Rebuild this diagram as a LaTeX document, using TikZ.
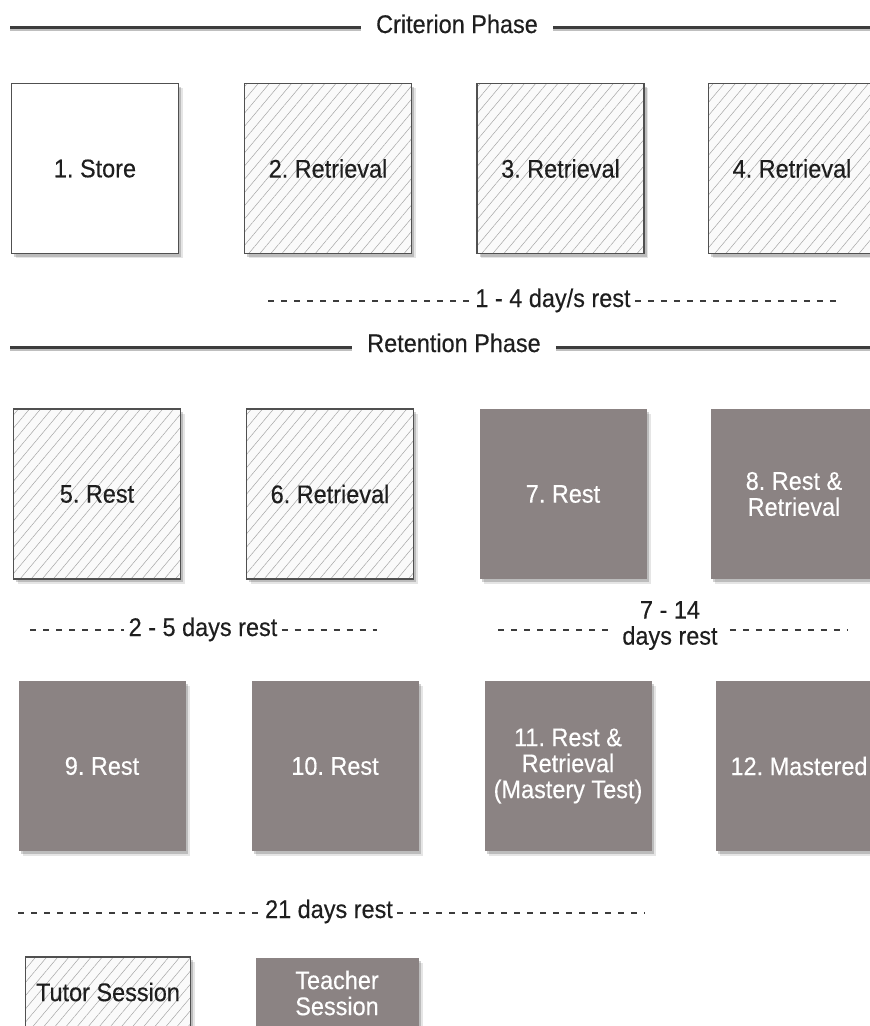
\documentclass[tikz,border=0pt]{standalone}
\usepackage{fontspec}
\setmainfont[FakeStretch=0.92,FakeBold=0.35]{Liberation Sans}
\usetikzlibrary{shadows,patterns.meta}
\frenchspacing

\definecolor{sessiongray}{RGB}{139,131,131}
\definecolor{edgegray}{RGB}{80,80,80}
\definecolor{inkgray}{RGB}{30,30,30}
\definecolor{rulegray}{RGB}{60,60,60}
\definecolor{hatchgray}{RGB}{165,165,165}
\definecolor{hatchbg}{RGB}{250,250,250}

\tikzset{
  txt/.style={font=\fontsize{25.5}{26}\selectfont, inner sep=0pt},
  stage/.style={txt, minimum width=167pt, minimum height=170pt, align=center,
    drop shadow={shadow xshift=4pt, shadow yshift=-4.5pt, fill=black, opacity=0.10},
    drop shadow={shadow xshift=2.5pt, shadow yshift=-3pt, fill=black, opacity=0.18}},
  storebox/.style={stage, fill=white, draw=edgegray, line width=1.4pt, text=inkgray},
  tutorbox/.style={stage, preaction={fill=hatchbg},
    pattern={Lines[angle=50,distance=8.5pt,line width=0.5pt]}, pattern color=hatchgray,
    draw=edgegray, line width=1.4pt, text=inkgray},
  teacherbox/.style={stage, fill=sessiongray, text=white},
  phasetext/.style={txt, text=inkgray, anchor=base, inner xsep=15pt},
  resttext/.style={txt, text=inkgray, anchor=base, inner xsep=4pt},
  phaserule/.style={line width=3pt, draw=rulegray,
    preaction={draw=black!25, line width=3pt, transform canvas={yshift=-2pt}}},
  restrule/.style={line width=2.2pt, draw=rulegray, dash pattern=on 6pt off 7pt},
}

\begin{document}
\begin{tikzpicture}[x=1pt, y=-1pt]
\useasboundingbox (0,0) rectangle (870,1026);

% ---------- Criterion phase header
\node[phasetext] (crit) at (457,33) {Criterion Phase};
\coordinate (critL) at (10,27);
\coordinate (critR) at (870,27);
\draw[phaserule] (critL) -- (critL -| crit.west);
\draw[phaserule] (critR -| crit.east) -- (critR);

% ---------- Criterion phase stages
\node[storebox] (s1) at (95,168.5)  {1. Store};
\node[tutorbox] (s2) at (328,168.5) {2. Retrieval};
\node[tutorbox] (s3) at (560.5,168.5) {3. Retrieval};
\node[tutorbox] (s4) at (792,168.5) {4. Retrieval};

% ---------- 1 - 4 day/s rest
\node[resttext] (r14) at (553,307) {1 - 4 day/s rest};
\coordinate (r14L) at (268,301);
\coordinate (r14R) at (838,301);
\draw[restrule] (r14L) -- (r14L -| r14.west);
\draw[restrule] (r14R -| r14.east) -- (r14R);

% ---------- Retention phase header
\node[phasetext] (ret) at (454,352) {Retention Phase};
\coordinate (retL) at (10,347);
\coordinate (retR) at (870,347);
\draw[phaserule] (retL) -- (retL -| ret.west);
\draw[phaserule] (retR -| ret.east) -- (retR);

% ---------- Retention phase, first row
\node[tutorbox]   (s5) at (97,494)  {5. Rest};
\node[tutorbox]   (s6) at (330,494) {6. Retrieval};
\node[teacherbox] (s7) at (563,494) {7. Rest};
\node[teacherbox] (s8) at (794,494) {8. Rest \&\\Retrieval};

% ---------- 2 - 5 days rest
\node[resttext] (r25) at (203,636) {2 - 5 days rest};
\coordinate (r25L) at (30,630);
\coordinate (r25R) at (377,630);
\draw[restrule] (r25L) -- (r25L -| r25.west);
\draw[restrule] (r25R -| r25.east) -- (r25R);

% ---------- 7 - 14 days rest
\node[txt, text=inkgray, align=center, inner xsep=12pt] (r714) at (670,625.5) {7 - 14\\days rest};
\coordinate (r714L) at (498,630);
\coordinate (r714R) at (847,630);
\draw[restrule] (r714L) -- (r714L -| r714.west);
\draw[restrule] (r714R -| r714.east) -- (r714R);

% ---------- Retention phase, second row
\node[teacherbox] (s9)  at (102,766) {9. Rest};
\node[teacherbox] (s10) at (335,766) {10. Rest};
\node[teacherbox] (s11) at (568,766) {11. Rest \&\\Retrieval\\(Mastery Test)};
\node[teacherbox] (s12) at (799,766) {12. Mastered};

% ---------- 21 days rest
\node[resttext] (r21) at (329,918) {21 days rest};
\coordinate (r21L) at (18,913);
\coordinate (r21R) at (645,913);
\draw[restrule] (r21L) -- (r21L -| r21.west);
\draw[restrule] (r21R -| r21.east) -- (r21R);

% ---------- Legend
\node[tutorbox, minimum width=165pt, minimum height=70pt] (tutor) at (108,992) {Tutor Session};
\node[teacherbox, minimum width=163pt, minimum height=70pt] (teacher) at (337,993) {Teacher\\Session};
\end{tikzpicture}
\end{document}
